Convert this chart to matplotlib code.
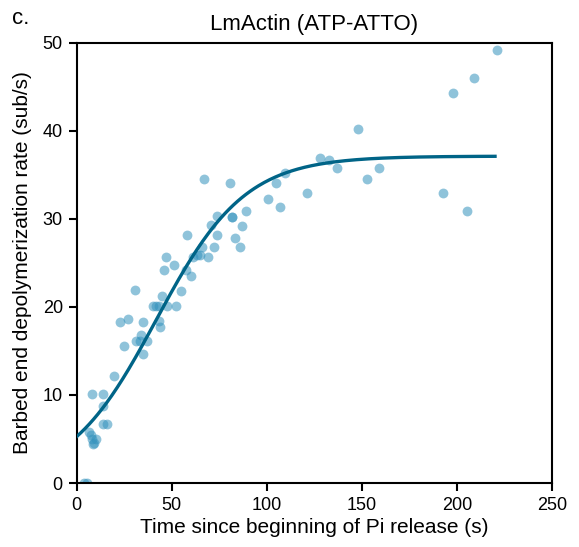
import numpy as np
import matplotlib
matplotlib.use("Agg")
import matplotlib.pyplot as plt

plt.rcParams['font.family'] = ['Liberation Sans', 'DejaVu Sans']

# measured points: time since Pi release start (s), depolymerization rate (sub/s)
time_s = [4.0, 5.2, 6.5, 7.4, 7.9, 10.1, 8.8, 9.1, 7.9, 14.0, 14.0, 14.0, 16.1,
          19.7, 24.9, 22.8, 26.8, 30.8, 34.9, 33.7, 31.2, 33.3, 36.8, 35.1,
          43.8, 43.2, 39.9, 41.7, 43.5, 47.6, 52.0, 45.1, 54.9, 45.9, 46.9,
          50.9, 57.5, 60.0, 61.0, 63.1, 65.0, 65.9, 69.0, 72.1, 57.9, 74.0,
          70.6, 73.8, 67.0, 80.8, 81.9, 81.9, 83.1, 85.9, 87.0, 89.1, 100.7,
          104.9, 107.0, 109.8, 121.0, 128.0, 132.9, 137.1, 148.0, 152.9,
          159.0, 192.8, 198.0, 205.0, 209.1, 220.9]
rate = [0.0, 0.0, 5.8, 5.5, 5.0, 5.0, 4.4, 4.5, 10.1, 10.1, 8.7, 6.7, 6.7,
        12.1, 15.5, 18.3, 18.6, 21.9, 18.3, 16.8, 16.1, 16.1, 16.1, 14.6,
        17.7, 18.4, 20.1, 20.1, 20.1, 20.1, 20.1, 21.2, 21.8, 24.2, 25.7,
        24.8, 24.2, 23.5, 25.6, 25.9, 25.9, 26.8, 25.6, 26.8, 28.2, 28.2,
        29.3, 30.3, 34.5, 34.1, 30.2, 30.2, 27.8, 26.8, 29.2, 30.9, 32.2,
        34.1, 31.3, 35.2, 32.9, 36.9, 36.7, 35.8, 40.2, 34.5,
        35.8, 32.9, 44.3, 30.9, 46.0, 49.1]

# logistic fit parameters
fit_L = 37.1
fit_x0 = 41.9
fit_k = 23.3
fit_tmax = 220

tt = np.linspace(0, fit_tmax, 300)
fit = fit_L / (1 + np.exp(-(tt - fit_x0) / fit_k))

fig = plt.figure(figsize=(5.79, 5.47), dpi=100)
ax = fig.add_axes([0.1325, 0.117, 0.821, 0.8053])

ax.scatter(time_s, rate, s=50, color='#3392bd', alpha=0.55, linewidths=0, zorder=2)
ax.plot(tt, fit, color='#006487', lw=2.4, zorder=3)

ax.set_xlim(0, 250)
ax.set_ylim(0, 50)
ax.set_xticks([0, 50, 100, 150, 200, 250])
ax.set_yticks([0, 10, 20, 30, 40, 50])
for sp in ax.spines.values():
    sp.set_linewidth(1.5)
ax.tick_params(direction='out', length=6, width=1.5, labelsize=13, pad=4)

ax.set_xlabel('Time since beginning of Pi release (s)', fontsize=15, labelpad=3)
ax.set_ylabel('Barbed end depolymerization rate (sub/s)', fontsize=15, labelpad=8)
ax.set_title('LmActin (ATP-ATTO)', fontsize=16, pad=9)
fig.text(0.0207, 0.956, 'c.', fontsize=16, va='baseline', ha='left')

fig.savefig('out.png', dpi=100)
